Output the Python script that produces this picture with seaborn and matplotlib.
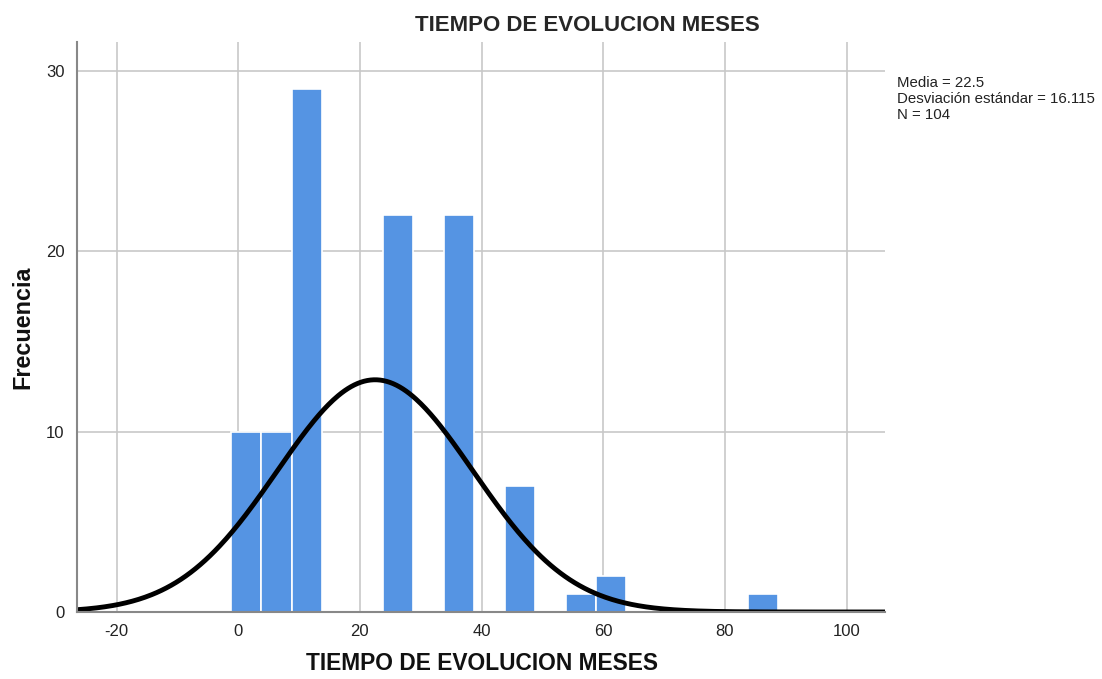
import numpy as np
import pandas as pd
import matplotlib
matplotlib.use("Agg")
import matplotlib.pyplot as plt
import seaborn as sns

# Histogram data (bin edges and counts)
bin_start = -1.2
bin_width = 5.0
counts = [10, 10, 29, 0, 0, 22, 0, 22, 0, 7, 0, 1, 2, 0, 0, 0, 0, 1]
mean = 22.5
std = 16.115
n = 104
x_ticks = [-20, 0, 20, 40, 60, 80, 100]
y_ticks = [0, 10, 20, 30]
title = "TIEMPO DE EVOLUCION MESES"
xlabel = "TIEMPO DE EVOLUCION MESES"
ylabel = "Frecuencia"

edges = bin_start + bin_width * np.arange(len(counts) + 1)
centers = (edges[:-1] + edges[1:]) / 2
df = pd.DataFrame({"x": centers, "w": counts})

sns.set_style("white")
plt.rcParams["font.family"] = ["Liberation Sans", "DejaVu Sans"]
plt.rcParams["axes.unicode_minus"] = False

fig = plt.figure(figsize=(11.02, 6.79), dpi=100)
ax = fig.add_axes([0.0699, 0.0987, 0.7331, 0.8395])

sns.histplot(data=df, x="x", weights="w", binwidth=bin_width,
             binrange=(float(edges[0]), float(edges[-1])), ax=ax,
             color="#5594E3", alpha=1.0, edgecolor="white", linewidth=1.2)

xs = np.linspace(-26.5, 106.5, 500)
ys = n * bin_width / (std * np.sqrt(2 * np.pi)) * np.exp(-0.5 * ((xs - mean) / std) ** 2)
sns.lineplot(x=xs, y=ys, ax=ax, color="black", linewidth=3.5)

ax.set_xlim(-26.5, 106.3)
ax.set_ylim(0, 31.6)
ax.set_xticks(x_ticks)
ax.set_yticks(y_ticks)
ax.grid(True, color="#c8c8c8", linewidth=1.2)
ax.set_axisbelow(True)
for s in ["top", "right"]:
    ax.spines[s].set_visible(False)
ax.spines["left"].set_color("#888888")
ax.spines["left"].set_linewidth(1.5)
ax.spines["bottom"].set_color("#888888")
ax.spines["bottom"].set_linewidth(1.5)
ax.tick_params(axis="both", length=0, labelsize=12, colors="#222222", pad=9)
ax.set_xlabel("")
ax.set_ylabel("")

fig.text(0.533, 0.963, title, ha="center", va="center", fontsize=16, fontweight="bold")
fig.text(0.437, 0.006, xlabel, ha="center", va="bottom", fontsize=16.4, fontweight="bold", color="#111111")
fig.text(0.021, 0.518, ylabel, ha="center", va="center", rotation=90, fontsize=16.8, fontweight="bold", color="#111111")
fig.text(0.814, 0.888, f"Media = {mean}\nDesviación estándar = {std}\nN = {n}",
         ha="left", va="top", fontsize=10.8, linespacing=1.2, color="#222222")

fig.savefig("out.png", dpi=100)
